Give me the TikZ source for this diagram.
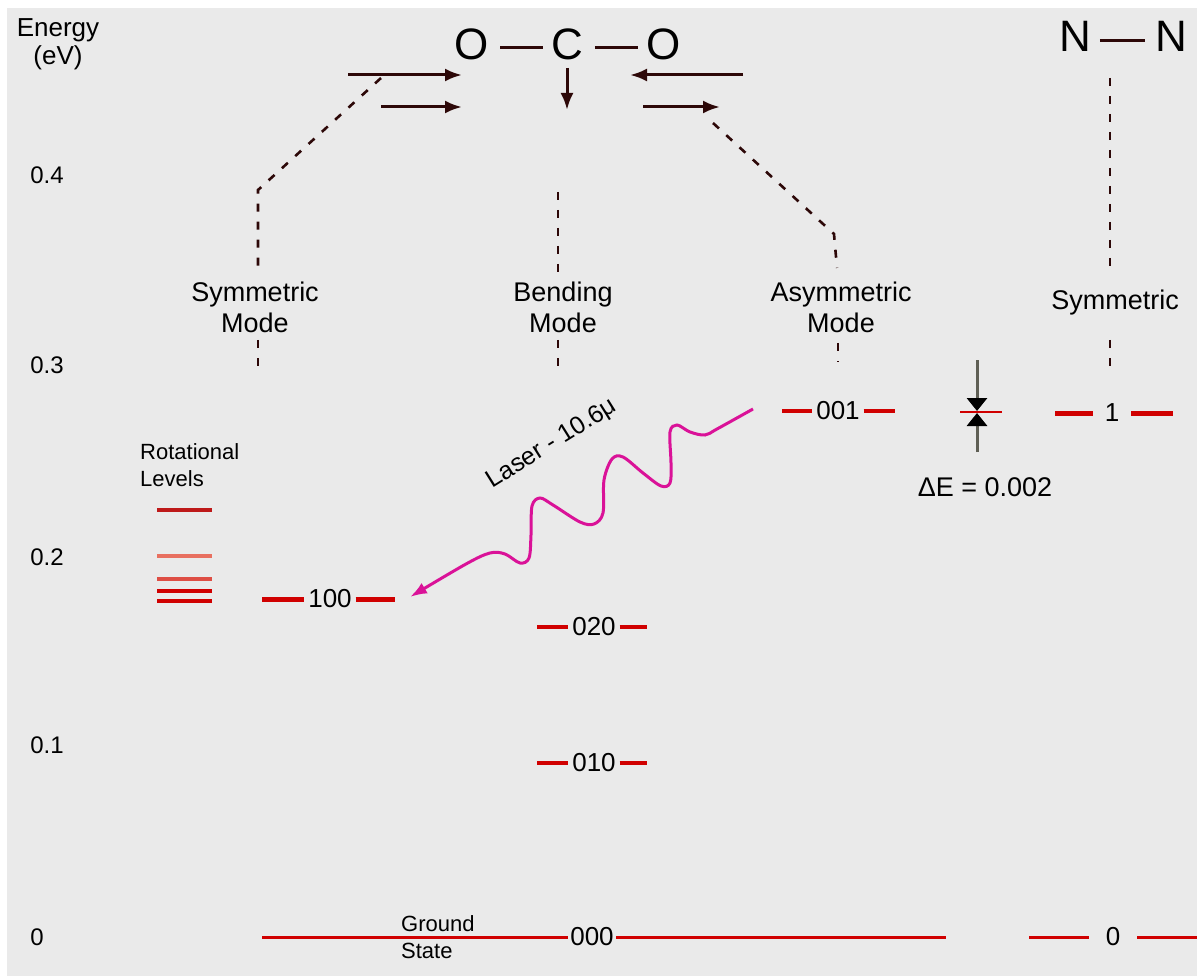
\documentclass[tikz,border=0pt]{standalone}
\usepackage{fontspec}
\setmainfont{Liberation Sans}
\usetikzlibrary{arrows.meta}
\definecolor{bg}{RGB}{234,234,234}
\definecolor{lvred}{RGB}{208,0,0}
\definecolor{dk}{RGB}{45,8,8}
\definecolor{laser}{RGB}{218,18,152}
\definecolor{rot1}{RGB}{190,25,25}
\definecolor{rot2}{RGB}{232,112,96}
\definecolor{rot3}{RGB}{222,78,68}
\definecolor{shaft}{RGB}{95,95,85}
\begin{document}
\begin{tikzpicture}[x=1pt,y=-1pt,
  lbl/.style={font=\fontsize{27}{31}\selectfont, align=center, inner sep=0pt},
  smalllbl/.style={font=\fontsize{22}{27}\selectfont, align=left, inner sep=0pt},
  num/.style={font=\fontsize{24}{28}\selectfont, inner sep=0pt},
  lvnum/.style={font=\fontsize{26}{30}\selectfont, inner sep=0pt, outer sep=4pt},
  atom/.style={font=\fontsize{44}{48}\selectfont, inner sep=0pt, outer sep=0pt},
  bond/.style={draw=dk, line width=3pt},
  mol/.style={draw=dk, line width=3pt, -{Latex[length=17pt,width=13pt]}},
  lead/.style={draw=dk, line width=2.6pt, dash pattern=on 8pt off 10pt},
  lvline/.style={draw=lvred, line width=4pt},
  rotline/.style={line width=3.5pt},
  dearrow/.style={draw=shaft, line width=3pt, -{Triangle[length=13pt,width=20pt,fill=black,color=black]}},
  laserline/.style={draw=laser, line width=3pt, -{Latex[length=17pt,width=12pt]}}
]
\fill[white] (0,0) rectangle (1197,976);
\fill[bg] (7,8) rectangle (1197,976);
\useasboundingbox (0,0) rectangle (1197,976);

% energy axis
\node[lbl, font=\fontsize{26}{28}\selectfont] (elab) at (58,44) {Energy\\(eV)};
\node[num] (e4) at (47,175) {0.4};
\node[num] (e3) at (47,365) {0.3};
\node[num] (e2) at (47,557) {0.2};
\node[num] (e1) at (47,745) {0.1};
\node[num] (e0) at (37,937) {0};

% CO2 molecule
\node[atom] (O1) at (472,44) {O};
\node[atom] (C) at (567,44) {C};
\node[atom] (O2) at (664,44) {O};
\draw[bond, shorten <=11pt, shorten >=8pt] ([yshift=-4pt]O1.east) -- ([yshift=-4pt]C.west);
\draw[bond, shorten <=12pt, shorten >=9pt] ([yshift=-4pt]C.east) -- ([yshift=-4pt]O2.west);

% N2 molecule
\node[atom] (N1) at (1075,36) {N};
\node[atom] (N2) at (1171,36) {N};
\draw[bond, shorten <=9pt, shorten >=10pt] ([yshift=-5pt]N1.east) -- ([yshift=-5pt]N2.west);

% displacement arrows
\coordinate (a1s) at (348,75);  \coordinate (a1e) at (462,75);
\coordinate (a2s) at (381,107); \coordinate (a2e) at (462,107);
\coordinate (a3s) at (567,68);  \coordinate (a3e) at (567,110);
\coordinate (a4s) at (743,75);  \coordinate (a4e) at (630,75);
\coordinate (a5s) at (643,107); \coordinate (a5e) at (720,107);
\draw[mol] (a1s) -- (a1e);
\draw[mol] (a2s) -- (a2e);
\draw[mol] (a3s) -- (a3e);
\draw[mol] (a4s) -- (a4e);
\draw[mol] (a5s) -- (a5e);

% mode labels and leaders
\node[lbl] (symL) at (255,307) {Symmetric\\Mode};
\node[lbl] (bendL) at (563,307) {Bending\\Mode};
\node[lbl] (asymL) at (841,307) {Asymmetric\\Mode};
\node[lbl] (nsymL) at (1115,303) {Symmetric};

\coordinate (s0) at (381,78); \coordinate (s1) at (258,190); \coordinate (s2) at (258,272);
\coordinate (s3) at (258,340); \coordinate (s4) at (258,368);
\draw[lead] (s0) -- (s1) -- (s2);
\draw[lead] (s3) -- (s4);

\coordinate (b1) at (558,192); \coordinate (b2) at (558,272);
\coordinate (b3) at (558,340); \coordinate (b4) at (558,372);
\draw[lead] (b1) -- (b2);
\draw[lead] (b3) -- (b4);

\coordinate (as0) at (713,123); \coordinate (as1) at (834,234); \coordinate (as2) at (837,268);
\coordinate (as3) at (838,343); \coordinate (as4) at (838,362);
\draw[lead] (as0) -- (as1) -- (as2);
\draw[lead] (as3) -- (as4);

\coordinate (n0) at (1110,78); \coordinate (n1) at (1110,272);
\coordinate (n2) at (1110,340); \coordinate (n3) at (1110,366);
\draw[lead] (n0) -- (n1);
\draw[lead] (n2) -- (n3);

% rotational levels
\node[smalllbl, anchor=west] (rotL) at (140,465) {Rotational\\Levels};
\draw[rotline, draw=rot1] (157,510) -- (212,510);
\draw[rotline, draw=rot2] (157,556) -- (212,556);
\draw[rotline, draw=rot3] (157,579) -- (212,579);
\draw[rotline, draw=lvred] (157,591) -- (212,591);
\draw[rotline, draw=lvred] (157,601) -- (212,601);

% vibrational levels
\node[lvnum] (L100) at (330,599) {100};
\coordinate (l100a) at (262,599); \coordinate (l100b) at (395,599);
\draw[lvline, line width=5pt] (l100a) -- (L100) -- (l100b);

\node[lvnum] (L020) at (594,627) {020};
\coordinate (l020a) at (537,627); \coordinate (l020b) at (647,627);
\draw[lvline] (l020a) -- (L020) -- (l020b);

\node[lvnum] (L010) at (594,763) {010};
\coordinate (l010a) at (537,763); \coordinate (l010b) at (647,763);
\draw[lvline] (l010a) -- (L010) -- (l010b);

\node[lvnum] (L001) at (838,411) {001};
\coordinate (l001a) at (782,411); \coordinate (l001b) at (895,411);
\draw[lvline] (l001a) -- (L001) -- (l001b);

\node[lvnum, outer sep=2.5pt] (L000) at (592,937) {000};
\coordinate (l000a) at (262,937); \coordinate (l000b) at (946,937);
\draw[lvline, line width=3pt] (l000a) -- (L000) -- (l000b);
\node[smalllbl, anchor=west] (gs) at (401,937) {Ground\\State};

\node[lvnum, outer sep=12pt] (LN1) at (1112,413) {1};
\coordinate (ln1a) at (1055,413); \coordinate (ln1b) at (1173,413);
\draw[lvline, line width=5pt] (ln1a) -- (LN1) -- (ln1b);

\node[lvnum, outer sep=17pt] (LN0) at (1113,937) {0};
\coordinate (ln0a) at (1029,937); \coordinate (ln0b) at (1197,937);
\draw[lvline, line width=3pt] (ln0a) -- (LN0) -- (ln0b);

% energy gap
\coordinate (dt0) at (977,360); \coordinate (dt1) at (977,411);
\coordinate (db0) at (977,452); \coordinate (db1) at (977,413);
\draw[draw=lvred, line width=2pt] (960,412) -- (1002,412);
\draw[dearrow] (dt0) -- (dt1);
\draw[dearrow] (db0) -- (db1);
\node[lbl] (dE) at (985,487) {ΔE = 0.002};

% laser
\coordinate (las0) at (753,409);
\coordinate (las1) at (410,597);
\draw[laserline] plot[smooth, tension=0.55] coordinates {(las0) (717,429) (705,435) (690,432) (677,425) (670,432) (671,463) (670,483) (661,486) (643,473) (623,457) (612,459) (604,480) (603,513) (594,524) (580,522) (553,505) (540,498) (532,506) (531,535) (529,558) (520,563) (505,554) (490,553) (466,564) (las1)};
\node[font=\fontsize{25}{29}\selectfont, rotate=32, inner sep=0pt] (lasL) at (552,444) {Laser - 10.6μ};
\end{tikzpicture}
\end{document}
